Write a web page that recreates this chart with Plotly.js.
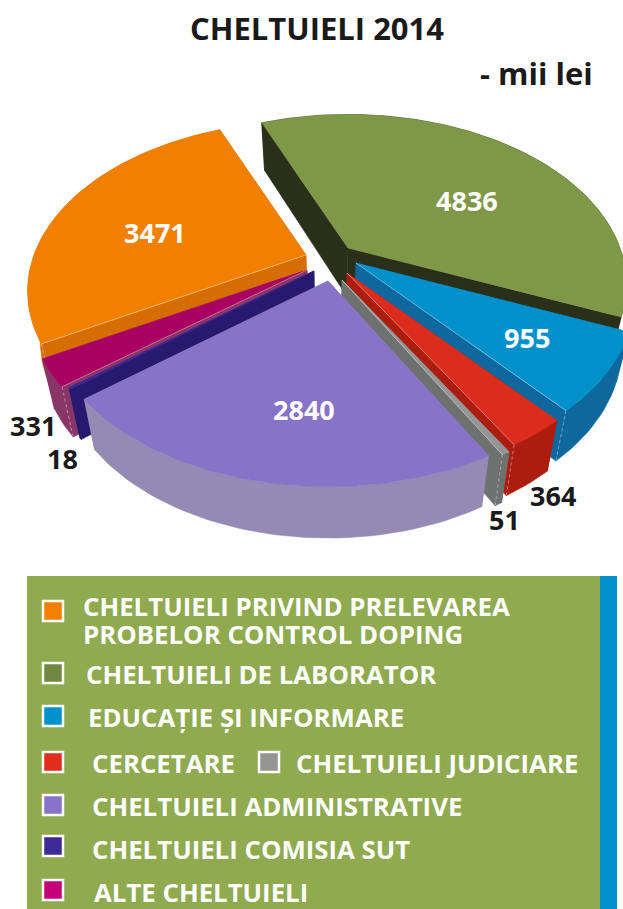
<!DOCTYPE html>
<html><head><meta charset="utf-8">
<script src="https://cdn.plot.ly/plotly-3.0.1.min.js"></script>
<style>html,body{margin:0;padding:0;background:#fff;overflow:hidden}#c{width:623px;height:909px}</style>
</head><body><div id="c"></div>
<script>
// ---- data (clockwise, starting at the laboratory slice)
const categories = ["CHELTUIELI DE LABORATOR","EDUCAȚIE ȘI INFORMARE","CERCETARE","CHELTUIELI JUDICIARE","CHELTUIELI ADMINISTRATIVE","CHELTUIELI COMISIA SUT","ALTE CHELTUIELI","CHELTUIELI PRIVIND PRELEVAREA PROBELOR CONTROL DOPING"];
const values = [4836,955,364,51,2840,18,331,3471];
// ---- styles
const topColors  = ["#7f9848","#0091cb","#dc2d1c","#959595","#8773c8","#3d2a97","#a90062","#f28000"];
const wallColors = ["#2a2f1a","#0f689d","#ac1d10","#6f7170","#948ab4","#271a6e","#8a3568","#d66d00"];
const apexX = [348,356,347,342,328,314,307,306];
const apexY = [248,263,273,280,281,271,270,255];
const drawOrder = [0,1,2,3,7,6,5,4];
const highlightSide = [null,"end","end","end",null,null,"start","start"];
const labelX = [467,527,553,504,304,62,33,155];
const labelY = [200,337,495,519,409,458,425,232];
const labelColors = ["#fff","#fff","#1a1a1a","#1a1a1a","#fff","#1a1a1a","#1a1a1a","#fff"];
const legendRows = [
 {t:["CHELTUIELI PRIVIND PRELEVAREA","PROBELOR CONTROL DOPING"],x:81,y:[606,634]},
 {t:["CHELTUIELI DE LABORATOR"],x:84,y:[674]},
 {t:["EDUCAȚIE ȘI INFORMARE"],x:86,y:[717]},
 {t:["CERCETARE"],x:90,y:[763]},
 {t:["CHELTUIELI JUDICIARE"],x:294,y:[763]},
 {t:["CHELTUIELI ADMINISTRATIVE"],x:90,y:[806]},
 {t:["CHELTUIELI COMISIA SUT"],x:90,y:[849]},
 {t:["ALTE CHELTUIELI"],x:92,y:[892]}
];
const swatchX = [53,53,53,53,269,53,53,53];
const swatchY = [611,673,716,762,762,805,846,890];
const swatchColors = ["#f28000","#6f8a3e","#0091cb","#e02d1c","#959595","#8773c8","#3d2a97","#c4007a"];

const FONT = "'Open Sans','Noto Sans',sans-serif";
const A=272,B=162,K=0.213,START=-22.3,CX=328;
const total = values.reduce((a,b)=>a+b,0);
function rim(i,deg){
  const t=deg*Math.PI/180,u=Math.sin(t),v=Math.cos(t),f=1+K*v;
  return [apexX[i]+A*u/f, apexY[i]-B*v/f];
}
function drop(p){ return [p[0]+(CX-p[0])*0.042, p[1]+49+0.01*(p[1]-260)]; }
function poly(pts,color){
  return {type:"scatter",mode:"lines",x:pts.map(p=>p[0]),y:pts.map(p=>p[1]),fill:"toself",fillcolor:color,
          line:{width:0.5,color:color},hoverinfo:"skip",showlegend:false};
}
function seg(a,b,dash){
  return {type:"scatter",mode:"lines",x:[a[0],b[0]],y:[a[1],b[1]],line:{width:0.8,color:"rgba(255,255,255,0.5)",dash:dash},hoverinfo:"skip",showlegend:false};
}
let acc=START; const ang=values.map(v=>{const s=acc;acc+=v/total*360;return [s,acc];});
const traces=[];
drawOrder.forEach(i=>{
  const [s,e]=ang[i], apex=[apexX[i],apexY[i]], n=Math.max(2,Math.ceil((e-s)/1.5));
  const arc=[]; for(let k=0;k<=n;k++) arc.push(rim(i,s+(e-s)*k/n));
  const first=arc[0], last=arc[arc.length-1];
  traces.push(poly([apex,first,drop(first),drop(apex),apex],wallColors[i]));
  traces.push(poly([apex,last,drop(last),drop(apex),apex],wallColors[i]));
  traces.push(poly(arc.concat(arc.map(drop).reverse()).concat([arc[0]]),wallColors[i]));
  traces.push(poly([apex].concat(arc).concat([apex]),topColors[i]));
  if(highlightSide[i]){
    const c=highlightSide[i]==="start"?first:last;
    traces.push(seg(c,drop(c),"dot"));
    traces.push(seg(apex,c,"solid"));
  }
});
// legend swatches
traces.push({type:"scatter",mode:"markers",x:swatchX,y:swatchY,
  marker:{symbol:"square",size:20,color:swatchColors,line:{color:"#fff",width:2.5}},hoverinfo:"skip",showlegend:false});

const ann=[];
values.forEach((v,i)=>ann.push({x:labelX[i],y:labelY[i],xref:"x",yref:"y",text:String(v),showarrow:false,
   xanchor:"center",yanchor:"middle",font:{family:FONT,size:27,color:labelColors[i],weight:700}}));
legendRows.forEach(r=>r.t.forEach((t,k)=>ann.push({x:r.x,y:r.y[k],xref:"x",yref:"y",text:t,showarrow:false,
   xanchor:"left",yanchor:"middle",font:{family:FONT,size:25.8,color:"#fff",weight:700}})));
ann.push({x:595,y:73,xref:"x",yref:"y",text:"- mii lei",showarrow:false,xanchor:"right",yanchor:"middle",
   font:{family:FONT,size:31,color:"#1a1a1a",weight:700}});

const layout={width:623,height:909,margin:{l:0,r:0,t:0,b:0},paper_bgcolor:"#fff",plot_bgcolor:"#fff",showlegend:false,
  title:{text:"CHELTUIELI 2014",x:317/623,xanchor:"center",y:1-29/909,yanchor:"middle",font:{family:FONT,size:31,color:"#1a1a1a",weight:700}},
  xaxis:{range:[0,623],visible:false,fixedrange:true},
  yaxis:{range:[909,0],visible:false,fixedrange:true},
  shapes:[
   {type:"rect",xref:"x",yref:"y",x0:27,x1:600,y0:576,y1:909,fillcolor:"#8faa4f",line:{width:0},layer:"below"},
   {type:"rect",xref:"x",yref:"y",x0:600,x1:617,y0:576,y1:909,fillcolor:"#0091cb",line:{width:0},layer:"below"}
  ],
  annotations:ann};
Plotly.newPlot("c",traces,layout,{staticPlot:true,displayModeBar:false});
</script></body></html>
